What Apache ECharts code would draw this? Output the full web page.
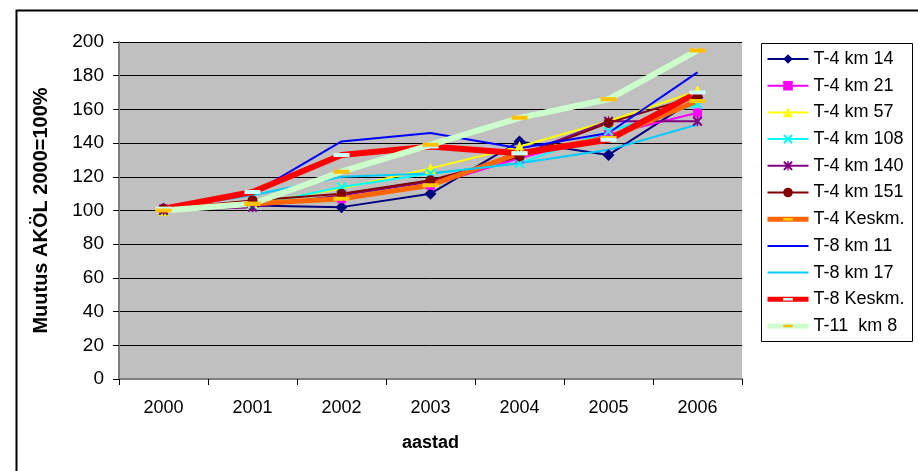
<!DOCTYPE html>
<html><head><meta charset="utf-8">
<script src="https://cdn.jsdelivr.net/npm/echarts@6/dist/echarts.min.js"></script>
<style>html,body{margin:0;padding:0;background:#fff}#c{width:918px;height:471px}</style>
</head><body><div id="c"></div>
<script>
var years = ['2000','2001','2002','2003','2004','2005','2006'];
var yTicks = [0,20,40,60,80,100,120,140,160,180,200];
var names = ['T-4 km 14','T-4 km 21','T-4 km 57','T-4 km 108','T-4 km 140','T-4 km 151','T-4 Keskm.','T-8 km 11','T-8 km 17','T-8 Keskm.','T-11  km 8'];
var t4km14  = [101, 103, 102, 110, 141, 133, 167];
var t4km21  = [101, 104, 107, 115, 131, 145, 158];
var t4km57  = [100, 104, 113, 125, 138, 153, 171];
var t4km108 = [100, 103, 114, 122, 128, 147, 163];
var t4km140 = [100, 102, 109, 117, 133, 153, 153];
var t4km151 = [101, 106, 110, 118, 132, 152, 168];
var t4mean  = [101, 104, 107, 115, 134, 143, 165];
var t8km11  = [101, 110, 141, 146, 137, 146, 182];
var t8km17  = [101, 109, 120, 122, 128, 136, 151];
var t8mean  = [101, 111, 133, 138, 134, 142, 170];
var t11km8  = [100, 104, 123, 139, 155, 166, 195];

var xPath = 'path://M0,1.5L1.5,0L5,3.5L8.5,0L10,1.5L6.5,5L10,8.5L8.5,10L5,6.5L1.5,10L0,8.5L3.5,5Z';
var starPath = 'path://M0,1.5L1.5,0L5,3.5L8.5,0L10,1.5L6.5,5L10,8.5L8.5,10L5,6.5L1.5,10L0,8.5L3.5,5Z M4.3,0L5.7,0L5.7,10L4.3,10Z';
// dash inside a square bounding box (tiny corner points keep the box square)
var dashPath = 'path://M0,0L0.01,0L0,0.01Z M16,16L15.99,16L16,15.99Z M0,6L16,6L16,10L0,10Z';
var linePath = 'path://M0,0L41,0L41,2L0,2Z';

function s(name, data, color, width, symbol, size, markerColor) {
  return {
    name: name, type: 'line', data: data,
    symbol: symbol || 'none', symbolSize: size || 8, showSymbol: !!symbol,
    lineStyle: {color: color, width: width},
    itemStyle: {color: markerColor || color},
    emphasis: {disabled: true},
    animation: false
  };
}

var series = [
  s(names[0], t4km14, '#000080', 2, 'diamond', 12),
  s(names[1], t4km21, '#FF00FF', 2, 'rect', 9),
  s(names[2], t4km57, '#FFFF00', 2, 'triangle', 11),
  s(names[3], t4km108, '#00FFFF', 2, xPath, 10),
  s(names[4], t4km140, '#800080', 2, starPath, 10),
  s(names[5], t4km151, '#800000', 2, 'circle', 10),
  s(names[6], t4mean, '#FF6600', 5, dashPath, 16, '#FFCC00'),
  s(names[7], t8km11, '#0000FF', 2),
  s(names[8], t8km17, '#00CCFF', 2),
  s(names[9], t8mean, '#FF0000', 6, dashPath, 16, '#CCFFFF'),
  s(names[10], t11km8, '#CCFFCC', 6, dashPath, 16, '#FFC000')
];

var legendData = names.map(function (n, i) {
  var sr = series[i];
  var d = {name: n, lineStyle: {width: Math.min(sr.lineStyle.width, 5), color: sr.lineStyle.color}};
  if (sr.symbol === 'none') {
    d.icon = linePath;
    d.itemStyle = {color: sr.lineStyle.color};
  }
  return d;
});

var chart = echarts.init(document.getElementById('c'), null, {renderer: 'canvas'});
chart.setOption({
  animation: false,
  backgroundColor: '#ffffff',
  textStyle: {fontFamily: 'Liberation Sans, Arial, sans-serif'},
  graphic: [
    {type: 'rect', left: 14, top: 8, shape: {width: 1000, height: 600}, style: {fill: 'none', stroke: '#000', lineWidth: 2}, z: -1},
    {type: 'rect', left: 761, top: 43, shape: {width: 151, height: 298}, style: {fill: '#fff', stroke: '#000', lineWidth: 1}, z: 0}
  ],
  grid: {left: 119, top: 42, right: 176, bottom: 92, show: true, backgroundColor: '#C0C0C0', borderWidth: 0},
  xAxis: {
    type: 'category', data: years, boundaryGap: true,
    name: 'aastad', nameLocation: 'middle', nameGap: 55,
    nameTextStyle: {fontSize: 18, fontWeight: 'bold', color: '#000'},
    axisLine: {lineStyle: {color: '#808080', width: 2}},
    axisTick: {show: true, length: 6, lineStyle: {color: '#000'}},
    axisLabel: {fontSize: 18, color: '#000', margin: 20}
  },
  yAxis: {
    type: 'value', min: yTicks[0], max: yTicks[yTicks.length-1], interval: 20,
    name: 'Muutus AKÖL 2000=100%', nameLocation: 'middle', nameGap: 68, nameRotate: 90,
    nameTextStyle: {fontSize: 20, fontWeight: 'bold', color: '#000'},
    axisLine: {show: true, lineStyle: {color: '#808080', width: 2}},
    axisTick: {show: true, length: 6, lineStyle: {color: '#000'}},
    axisLabel: {fontSize: 19, color: '#000', margin: 15},
    splitLine: {show: true, lineStyle: {color: '#000', width: 1}}
  },
  legend: {
    orient: 'vertical', left: 765, top: 49, padding: 0,
    data: legendData,
    itemWidth: 41, itemHeight: 12, itemGap: 6.7,
    textStyle: {fontSize: 18, color: '#000', lineHeight: 20},
    selectedMode: false,
    z: 5
  },
  series: series
});
</script></body></html>
